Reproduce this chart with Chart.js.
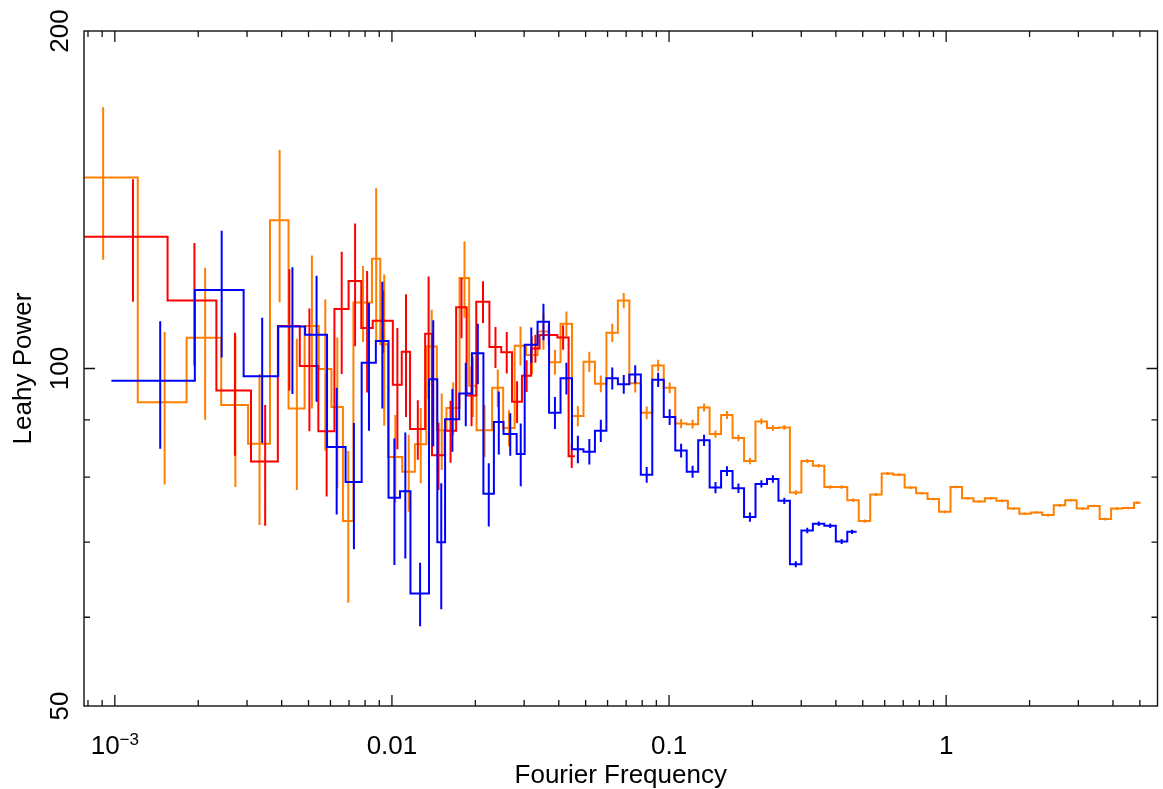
<!DOCTYPE html>
<html lang="en">
<head>
<meta charset="UTF-8">
<title>Leahy Power Spectra</title>
<script src="https://cdn.jsdelivr.net/npm/chart.js@4.4.0/dist/chart.umd.min.js"></script>
<style>
  html, body { margin: 0; padding: 0; background: #fff; }
  #wrap { width: 1163px; height: 789px; }
</style>
</head>
<body>
<div id="wrap"><canvas id="psd" width="1163" height="789"></canvas></div>
<script>
// bin edges (Hz), Leahy power and 1-sigma error for each spectrum
const orangeEdges = [0.000605, 0.00121, 0.001815, 0.00242, 0.003025, 0.00363, 0.004235, 0.00484, 0.005445, 0.00605,
  0.006655, 0.00726, 0.00847, 0.009075, 0.00968, 0.01089, 0.0121, 0.01331, 0.01452, 0.01573,
  0.017545, 0.0190, 0.0202, 0.02299, 0.0252, 0.02772, 0.03049, 0.03354, 0.0369, 0.04059,
  0.04464, 0.04911, 0.05402, 0.05942, 0.06536, 0.0719, 0.07909, 0.087, 0.0957, 0.1053,
  0.1158, 0.1274, 0.1401, 0.1541, 0.1695, 0.1865, 0.2051, 0.2257, 0.2482, 0.273,
  0.3003, 0.3304, 0.3634, 0.3998, 0.4397, 0.4837, 0.5321, 0.5853, 0.6438, 0.7082,
  0.779, 0.8569, 0.9426, 1.0369, 1.1406, 1.2546, 1.3801, 1.5181, 1.6699, 1.8369,
  2.0206, 2.2227, 2.4449, 2.6894, 2.9584, 3.2542, 3.5796, 3.9376, 4.3314, 4.7645, 5.03];
const orangePower = [148, 93.3, 106.5, 92.8, 85.7, 135.6, 92.1, 109.1, 99.9, 92.4,
  73.1, 114.5, 125.3, 105.1, 83.4, 80.9, 85.6, 104.6, 88.1, 92.2,
  120.4, 96.5, 88.1, 96.1, 88.5, 104.8, 102.8, 107.9, 101.3, 109.6,
  90.7, 101.4, 96.9, 107.6, 115.0, 97.0, 91.3, 100.6, 96.1, 89.3,
  89.2, 92.3, 87.4, 90.9, 86.7, 82.7, 89.7, 88.5, 88.6, 77.5,
  82.7, 81.9, 78.4, 78.4, 76.3, 73.1, 77.2, 80.6, 80.4, 78.3,
  77.4, 76.5, 74.5, 78.4, 76.6, 76.1, 76.6, 76.2, 75.0, 74.2,
  74.4, 74.0, 75.5, 76.3, 75.0, 75.4, 73.4, 75.0, 75.1, 75.9];
const orangeErr = [23, 14.5, 16.5, 14.4, 13.2, 21, 14.2, 17, 15.4, 14.2,
  11.3, 8.9, 19.5, 16.2, 7.5, 6.4, 6.6, 8.2, 6.9, 5,
  9.4, 6, 4.7, 3.7, 3.3, 4.2, 4, 4, 2.6, 2.8,
  1.9, 2.1, 1.65, 2.0, 1.8, 1.8, 1.2, 1.2, 1.05, 0.83,
  0.79, 0.76, 0.66, 0.75, 0.59, 0.56, 0.52, 0.49, 0.42, 0.37,
  0.34, 0.3, 0.3, 0.28, 0.27, 0.25, 0.25, 0.24, 0.23, 0.22,
  0.21, 0.2, 0.2, 0.2, 0.2, 0.2, 0.2, 0.2, 0.2, 0.2,
  0.2, 0.2, 0.2, 0.2, 0.2, 0.2, 0.2, 0.2, 0.2, 0.2];

const redEdges = [0.000775, 0.00155, 0.002325, 0.0031, 0.003875, 0.00465, 0.005425, 0.0062, 0.006975, 0.00775,
  0.008525, 0.010075, 0.01085, 0.011625, 0.013175, 0.01395, 0.0155, 0.01705, 0.0186, 0.02015,
  0.022475, 0.0248, 0.027125, 0.02945, 0.031775, 0.0341, 0.03953, 0.0434, 0.0457];
const redPower = [131.1, 115, 95.6, 82.6, 109.1, 100.5, 87.9, 113, 119.7, 108.7,
  110.3, 96.7, 103.5, 88.3, 107.4, 83.7, 88, 113.4, 94.6, 114.7,
  104.5, 103.4, 93.4, 98.5, 104.2, 107.1, 106.6, 83.5];
const redErr = [16.4, 14.4, 12, 10.2, 13.5, 12.6, 11, 14.1, 15, 13.5,
  7, 12, 13, 5.4, 13.4, 5.8, 5.6, 7, 5.8, 4.9,
  4.4, 4.4, 4, 3.2, 3, 2.2, 2.7, 2];

const blueEdges = [0.000972, 0.001944, 0.002916, 0.003888, 0.00486, 0.005832, 0.006804, 0.007776, 0.008748, 0.00972,
  0.010692, 0.011664, 0.013608, 0.01458, 0.015552, 0.017496, 0.01944, 0.021384, 0.023328, 0.025272,
  0.028188, 0.030132, 0.03354, 0.0369, 0.04059, 0.04464, 0.04911, 0.05402, 0.05942, 0.06536,
  0.0719, 0.07909, 0.087, 0.0957, 0.1053, 0.1158, 0.1274, 0.1401, 0.1541, 0.1695,
  0.1865, 0.2051, 0.2257, 0.2482, 0.273, 0.3003, 0.3304, 0.3634, 0.3998, 0.4397, 0.4753];
const bluePower = [97.5, 117.5, 98.4, 109, 107.2, 85.1, 79.2, 101.2, 105.8, 76.7,
  77.7, 63, 97.8, 70, 90.1, 95, 103.2, 77.3, 89.6, 87.4,
  83.9, 105, 110.1, 91.3, 98, 84.7, 84.3, 88, 98, 96.8,
  98.8, 80.4, 97.7, 90.5, 84.5, 80.9, 86.3, 78.3, 81, 78.2,
  73.7, 78.9, 79.7, 76.2, 66.9, 71.7, 72.7, 72.4, 70.1, 71.5];
const blueErr = [12.7, 15.2, 12.6, 14.1, 13.8, 11, 10.2, 13.2, 13.7, 9.9,
  10, 4.1, 12.6, 9, 5.8, 6.2, 6.4, 5, 5.8, 3.8,
  5.4, 3.8, 4.1, 3, 3.2, 2.4, 2.2, 2, 2.2, 1.85,
  1.85, 1.3, 1.45, 1.45, 1.2, 1.0, 1.0, 0.9, 0.8, 0.75,
  0.7, 0.6, 0.6, 0.5, 0.4, 0.4, 0.35, 0.35, 0.35, 0.3];

// axis ranges and labels
const freqMin = 0.000774, freqMax = 5.79;
const powMin = 50, powMax = 200;
const xTickValues = [0.001, 0.01, 0.1, 1];
const xTickText = [['10', '\u22123'], ['0.01', ''], ['0.1', ''], ['1', '']];
const yLabelValues = [50, 100, 200];
const yMinorTicks = [60, 70, 80, 90];
const yMajorTicks = [100];

const FONT = '"Liberation Sans", Arial, Helvetica, sans-serif';

// histogram outline: horizontal run across each bin, vertical jump at the edges
function stepData(edges, power) {
  const pts = power.map((p, i) => ({ x: edges[i], y: p }));
  pts.push({ x: edges[edges.length - 1], y: power[power.length - 1] });
  return pts;
}

// vertical error bar at the middle of each bin, separated by gaps
function errData(edges, power, err) {
  const pts = [];
  power.forEach((p, i) => {
    const xc = (edges[i] + edges[i + 1]) / 2;
    pts.push({ x: xc, y: p - err[i] }, { x: xc, y: p + err[i] }, { x: xc, y: null });
  });
  return pts;
}

const series = [
  { edges: blueEdges, power: bluePower, err: blueErr, color: '#0000ff' },
  { edges: redEdges, power: redPower, err: redErr, color: '#ff0000' },
  { edges: orangeEdges, power: orangePower, err: orangeErr, color: '#ff8000' }
];

const datasets = [];
series.forEach(s => {
  datasets.push({
    data: stepData(s.edges, s.power),
    stepped: 'before',
    borderColor: s.color,
    borderWidth: 2,
    pointRadius: 0,
    fill: false
  });
  datasets.push({
    data: errData(s.edges, s.power, s.err),
    borderColor: s.color,
    borderWidth: 2,
    pointRadius: 0,
    spanGaps: false,
    fill: false
  });
});

// box, inward ticks and axis labels
const framePlugin = {
  id: 'frame',
  afterDatasetsDraw(chart) {
    const { ctx, chartArea: a, scales: { x, y } } = chart;
    ctx.save();
    ctx.strokeStyle = '#111';
    ctx.lineWidth = 1.4;
    ctx.strokeRect(a.left, a.top, a.right - a.left, a.bottom - a.top);

    ctx.lineWidth = 1.3;
    ctx.beginPath();
    for (let d = -4; d <= 1; d++) {
      for (let m = 1; m <= 9; m++) {
        const v = m * Math.pow(10, d);
        if (v <= freqMin || v >= freqMax) continue;
        const px = x.getPixelForValue(v);
        const len = m === 1 ? 11 : 6;
        ctx.moveTo(px, a.bottom); ctx.lineTo(px, a.bottom - len);
        ctx.moveTo(px, a.top); ctx.lineTo(px, a.top + len);
      }
    }
    const yTicks = yMinorTicks.map(v => [v, 6]).concat(yMajorTicks.map(v => [v, 11]));
    yTicks.forEach(([v, len]) => {
      const py = y.getPixelForValue(v);
      ctx.moveTo(a.left, py); ctx.lineTo(a.left + len, py);
      ctx.moveTo(a.right, py); ctx.lineTo(a.right - len, py);
    });
    ctx.stroke();

    ctx.fillStyle = '#000';
    ctx.textBaseline = 'alphabetic';
    xTickValues.forEach((v, i) => {
      const px = x.getPixelForValue(v);
      const [base, sup] = xTickText[i];
      ctx.font = '26px ' + FONT;
      const wb = ctx.measureText(base).width;
      ctx.font = '17px ' + FONT;
      const ws = sup ? ctx.measureText(sup).width : 0;
      const left = px - (wb + ws) / 2;
      ctx.font = '26px ' + FONT;
      ctx.textAlign = 'left';
      ctx.fillText(base, left, 754);
      if (sup) {
        ctx.font = '17px ' + FONT;
        ctx.fillText(sup, left + wb, 745);
      }
    });

    ctx.font = '26px ' + FONT;
    ctx.textAlign = 'center';
    yLabelValues.forEach(v => {
      const py = y.getPixelForValue(v);
      ctx.save();
      ctx.translate(68, py);
      ctx.rotate(-Math.PI / 2);
      ctx.fillText(String(v), 0, 0);
      ctx.restore();
    });

    ctx.font = '26px ' + FONT;
    ctx.fillText('Fourier Frequency', (a.left + a.right) / 2, 783);
    ctx.save();
    ctx.translate(31, (a.top + a.bottom) / 2);
    ctx.rotate(-Math.PI / 2);
    ctx.fillText('Leahy Power', 0, 0);
    ctx.restore();
    ctx.restore();
  }
};

new Chart(document.getElementById('psd'), {
  type: 'line',
  data: { datasets },
  options: {
    responsive: false,
    animation: false,
    devicePixelRatio: 1,
    layout: { padding: { left: 84, right: 5.5, top: 31, bottom: 83 } },
    plugins: { legend: { display: false }, tooltip: { enabled: false } },
    scales: {
      x: { type: 'logarithmic', min: freqMin, max: freqMax, display: false },
      y: { type: 'logarithmic', min: powMin, max: powMax, display: false }
    }
  },
  plugins: [framePlugin]
});
</script>
</body>
</html>
